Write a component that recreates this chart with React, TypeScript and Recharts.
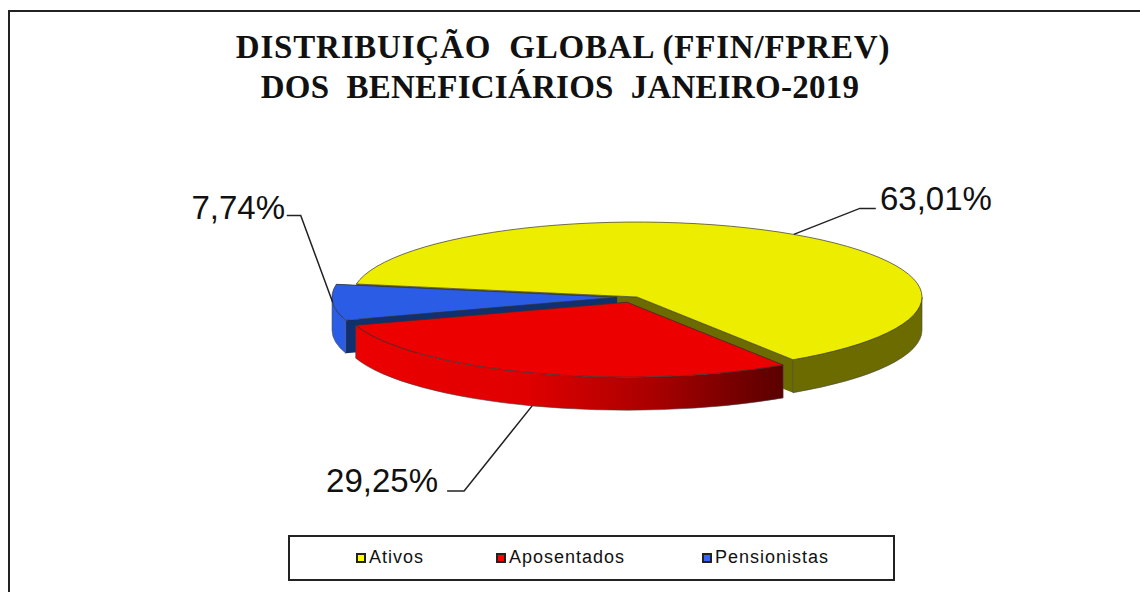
import React from 'react';
import { PieChart, Pie, Legend } from 'recharts';

const TITLE_LINES = ['DISTRIBUIÇÃO  GLOBAL (FFIN/FPREV)', 'DOS  BENEFICIÁRIOS  JANEIRO-2019'];
const TITLE_SPACING = [0.8, 0.25];
const TITLE_CENTERS = [563, 560];

// legend order
const CATEGORIES = ['Ativos', 'Aposentados', 'Pensionistas'];
const VALUES = [63.01, 29.25, 7.74];
const TOP_COLORS = ['#EDED00', '#EC0000', '#2B5CE6'];
const MARKER_COLORS = ['#FFFF00', '#FF0000', '#3366FF'];
const SIDE_COLORS = ['#6B6B00', 'url(#redWall)', '#2B5CE6'];
const CUT_COLORS = ['#6B6B00', '#700000', '#10306F'];
const EXPLODE = [0, 30, 20];

// slices run counter-clockwise, red has to paint last
const DRAW_ORDER = [0, 2, 1];

const pieData = DRAW_ORDER.map((i) => ({
  name: CATEGORIES[i],
  value: VALUES[i],
  fill: TOP_COLORS[i],
  side: SIDE_COLORS[i],
  cut: CUT_COLORS[i],
  explode: EXPLODE[i],
}));

const SQUASH = 0.263;
const DEPTH = 33;
const RAD = Math.PI / 180;

const LABEL_LAYOUT: Record<string, { elbow: [number, number]; tail: number; text: [number, number]; anchor: string; depth: number; }> = {
  Ativos: { elbow: [66, -26], tail: 16, text: [880, 210], anchor: 'start', depth: 0 },
  Aposentados: { elbow: [-68, 85], tail: -17, text: [438, 492], anchor: 'end', depth: DEPTH },
  Pensionistas: { elbow: [-32, -87], tail: -14, text: [285, 219], anchor: 'end', depth: 0 },
};

const centerOf = (cx: number, cy: number, mid: number, explode: number) => ({
  x: cx + explode * Math.cos(mid * RAD),
  y: cy - explode * SQUASH * 0.7 * Math.sin(mid * RAD),
});

const rim = (c: { x: number; y: number }, r: number, a: number) => ({
  x: c.x + r * Math.cos(a * RAD),
  y: c.y - r * SQUASH * Math.sin(a * RAD),
});

const SliceShape = (props: any) => {
  const { cx, cy, startAngle, endAngle, outerRadius, fill, payload } = props;
  const data = payload?.payload ?? payload ?? props;
  const explode = data.explode ?? props.explode;
  const side = data.side ?? props.side;
  const cut = data.cut ?? props.cut;
  const s = Math.min(startAngle, endAngle);
  const e = Math.max(startAngle, endAngle);
  const c = centerOf(cx, cy, (s + e) / 2, explode);
  const rx = outerRadius;
  const ry = outerRadius * SQUASH;
  const ps = rim(c, rx, s);
  const pe = rim(c, rx, e);
  const large = e - s > 180 ? 1 : 0;

  const top = `M${c.x},${c.y}L${ps.x},${ps.y}A${rx},${ry} 0 ${large} 0 ${pe.x},${pe.y}Z`;
  const face = (p: { x: number; y: number }) =>
    `M${c.x},${c.y}L${p.x},${p.y}L${p.x},${p.y + DEPTH}L${c.x},${c.y + DEPTH}Z`;

  // front half of the rim only
  const walls: string[] = [];
  [[-180, 0], [180, 360]].forEach(([lo, hi]) => {
    const a1 = Math.max(s, lo);
    const a2 = Math.min(e, hi);
    if (a2 > a1) {
      const p1 = rim(c, rx, a1);
      const p2 = rim(c, rx, a2);
      walls.push(
        `M${p1.x},${p1.y}A${rx},${ry} 0 0 0 ${p2.x},${p2.y}L${p2.x},${p2.y + DEPTH}A${rx},${ry} 0 0 1 ${p1.x},${p1.y + DEPTH}Z`
      );
    }
  });

  return (
    <g>
      <path d={face(ps)} fill={cut} />
      <path d={face(pe)} fill={cut} />
      {walls.map((d, i) => (
        <path key={i} d={d} fill={side} stroke="#444" strokeWidth={0.6} />
      ))}
      <path d={top} fill={fill} stroke="#333" strokeWidth={0.7} />
    </g>
  );
};

const renderLabel = (props: any) => {
  const { cx, cy, midAngle, outerRadius, name, value, payload } = props;
  const key = name ?? payload?.name;
  const layout = LABEL_LAYOUT[key];
  const explode = payload?.explode ?? props.explode ?? 0;
  const c = centerOf(cx, cy, midAngle, explode);
  const p = rim(c, outerRadius, midAngle);
  const y0 = p.y + layout.depth;
  const ex = p.x + layout.elbow[0];
  const ey = y0 + layout.elbow[1];
  return (
    <g>
      <polyline
        points={`${p.x},${y0} ${ex},${ey} ${ex + layout.tail},${ey}`}
        fill="none"
        stroke="#222"
        strokeWidth={1.5}
      />
      <text
        x={layout.text[0]}
        y={layout.text[1]}
        textAnchor={layout.anchor as any}
        fontFamily="'Liberation Sans', Arial, sans-serif"
        fontSize={33}
        fill="#111"
      >
        {Number(value).toFixed(2).replace('.', ',') + '%'}
      </text>
    </g>
  );
};

const LEGEND_OFFSETS = [66, 206, 412];

const renderLegend = () => (
  <div style={{ position: 'relative', boxSizing: 'border-box', width: 607, height: 46, border: '2px solid #222', background: '#fff' }}>
    {CATEGORIES.map((name, i) => (
      <div
        key={name}
        style={{
          position: 'absolute',
          left: LEGEND_OFFSETS[i],
          top: 10,
          display: 'flex',
          alignItems: 'center',
          fontFamily: "'Liberation Sans', Arial, sans-serif",
          fontSize: 18,
          letterSpacing: 1,
          color: '#111',
          whiteSpace: 'nowrap',
        }}
      >
        <span style={{ display: 'inline-block', boxSizing: 'border-box', width: 10, height: 10, marginRight: 3, border: '2px solid #222', background: MARKER_COLORS[i] }} />
        {name}
      </div>
    ))}
  </div>
);

export default function App() {
  return (
    <div style={{ position: 'absolute', left: 0, top: 0, width: 1140, height: 592, overflow: 'hidden', background: '#fff' }}>
      <div style={{ position: 'absolute', left: 8, top: 10, width: 1140, height: 600, borderLeft: '2px solid #222', borderTop: '2px solid #222' }} />
      <div style={{ position: 'absolute', left: 0, top: 0 }}>
        <PieChart width={1140} height={592} margin={{ top: 0, right: 0, bottom: 0, left: 0 }}>
          <defs>
            <linearGradient id="redWall" x1="0" y1="0" x2="1" y2="0">
              <stop offset="0%" stopColor="#EC0000" />
              <stop offset="40%" stopColor="#E00000" />
              <stop offset="70%" stopColor="#A80000" />
              <stop offset="100%" stopColor="#5A0000" />
            </linearGradient>
          </defs>
          {TITLE_LINES.map((line, i) => (
            <text
              key={line}
              x={TITLE_CENTERS[i]}
              y={58 + i * 40}
              textAnchor="middle"
              fontFamily="'Liberation Serif', 'Times New Roman', serif"
              fontWeight="bold"
              fontSize={33}
              letterSpacing={TITLE_SPACING[i]}
              fill="#111"
              style={{ whiteSpace: 'pre' }}
            >
              {line}
            </text>
          ))}
          <Pie
            data={pieData}
            dataKey="value"
            nameKey="name"
            cx={637}
            cy={297}
            outerRadius={285}
            startAngle={-56.8}
            endAngle={303.2}
            paddingAngle={0}
            stroke="none"
            shape={SliceShape}
            label={renderLabel}
            labelLine={false}
            isAnimationActive={false}
          />
          <Legend content={renderLegend} wrapperStyle={{ left: 288, top: 535, width: 607, height: 46 }} />
        </PieChart>
      </div>
    </div>
  );
}
